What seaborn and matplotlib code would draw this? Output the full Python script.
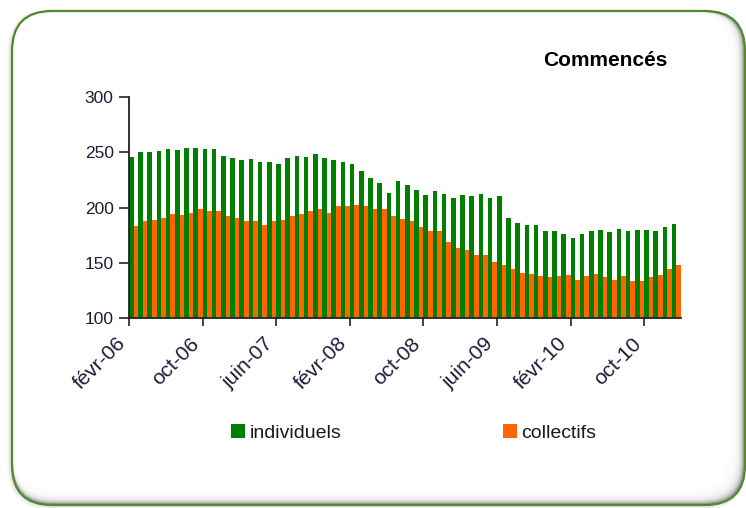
import numpy as np
import pandas as pd
import matplotlib
matplotlib.use("Agg")
import matplotlib.pyplot as plt
from matplotlib.patches import FancyBboxPatch, Patch
from matplotlib.transforms import IdentityTransform, ScaledTranslation
import seaborn as sns

# mois de févr-06 à janv-11
noms = ["janv", "févr", "mars", "avr", "mai", "juin",
        "juil", "août", "sept", "oct", "nov", "déc"]
mois = []
for k in range(60):
    m = (1 + k) % 12
    a = 6 + (1 + k) // 12
    mois.append(f"{noms[m]}-{a:02d}")

individuels = [246, 250, 250, 251, 253, 252, 254, 254, 253, 253,
               247, 245, 243, 244, 241, 241, 239.5, 245, 247, 246,
               248, 245, 243, 241, 239, 233, 227, 222, 213, 224,
               220, 216, 211, 215, 212, 209, 211, 210, 212, 209,
               210, 190.5, 186, 184, 184, 178.5, 178.5, 176, 172, 176,
               178.5, 179.5, 178, 180.5, 179, 179.5, 179.5, 179, 182, 185]
collectifs = [183, 187.5, 188.7, 190.8, 194, 193, 195.3, 199, 196.5, 196.5,
              192, 190.8, 187.5, 187.5, 184, 187.5, 188.7, 192, 194, 196.5,
              199, 195.3, 201, 201, 202.3, 201, 199, 199, 192, 190,
              187.5, 182, 178.5, 178.5, 169, 163, 161.4, 157, 157, 151,
              148, 144.5, 141, 140, 138, 136.7, 138, 139, 134.6, 138,
              140, 136.7, 134.6, 138, 133.4, 133.4, 136.7, 139, 144.5, 148]

ticks_idx = list(range(0, 60, 8))
vert = "#007f00"
orange = "#ff6600"
texte = "#1c1c38"

df = pd.DataFrame({
    "mois": mois * 2,
    "valeur": individuels + collectifs,
    "type": ["individuels"] * len(mois) + ["collectifs"] * len(mois),
})

sns.set_style("ticks")
plt.rcParams["font.family"] = ["Liberation Sans", "DejaVu Sans"]

W, H = 746, 508
fig = plt.figure(figsize=(W / 100, H / 100), dpi=100)
fig.patch.set_facecolor("white")


def box(x0, y0, x1, y1, r, **kw):
    # coordonnées en pixels, y compté depuis le haut
    p = FancyBboxPatch((x0 + r, H - y1 + r), (x1 - x0) - 2 * r, (y1 - y0) - 2 * r,
                       boxstyle=f"round,pad={r}", transform=IdentityTransform(),
                       zorder=-5, **kw)
    fig.patches.append(p)


# ombre extérieure
for k in range(6):
    box(12 - k, 11 - k * 0.3, 745 + k * 0.3, 505 + k, 40 + k,
        facecolor="#808080", edgecolor="none", alpha=0.05)
# cadre avec ombre intérieure
box(12, 11, 745, 505, 40, facecolor="#9a9a9a", edgecolor="none")
for k in range(1, 14):
    box(13, 12, 744 - k, 504 - k, 39, facecolor="white", edgecolor="none", alpha=0.3)
box(13, 12, 729, 490, 39, facecolor="white", edgecolor="none")
box(12, 11, 745, 505, 40, facecolor="none", edgecolor="#4f8a2e", linewidth=1.6)

ax = fig.add_axes([129 / W, 1 - 318 / H, (681 - 129) / W, (318 - 97) / H])
ax.set_facecolor("none")
sns.barplot(data=df, x="mois", y="valeur", hue="type", order=mois,
            hue_order=["individuels", "collectifs"],
            palette={"individuels": vert, "collectifs": orange},
            width=1.0, gap=0, dodge=True, saturation=1, errorbar=None,
            linewidth=0, legend=False, ax=ax)

ax.set_ylim(100, 300)
ax.set_yticks([100, 150, 200, 250, 300])
ax.set_xlim(-0.5, len(mois) - 0.5)
ax.set_xlabel("")
ax.set_ylabel("")
ax.tick_params(axis="y", direction="out", length=7, width=1.2, pad=4,
               labelsize=12.5, labelcolor=texte, color="#222222")
ax.tick_params(axis="x", direction="out", length=6, width=1.2, pad=4, color="#222222")
ax.set_xticks([i - 0.5 for i in ticks_idx])
ax.set_xticklabels([mois[i] for i in ticks_idx], rotation=45, ha="right",
                   va="top", rotation_mode="anchor", fontsize=15, color=texte)
# décalage des étiquettes vers la gauche, comme dans Excel
decal = ScaledTranslation(-0.13, -0.02, fig.dpi_scale_trans)
for lab in ax.get_xticklabels():
    lab.set_transform(lab.get_transform() + decal)
for s in ["top", "right"]:
    ax.spines[s].set_visible(False)
for s in ["left", "bottom"]:
    ax.spines[s].set_color("#222222")
    ax.spines[s].set_linewidth(1.3)

fig.text(668 / W, 1 - 60 / H, "Commencés", ha="right", va="center",
         fontsize=15, fontweight="bold", color="black")

poignees = [Patch(facecolor=vert, edgecolor="none"), Patch(facecolor=orange, edgecolor="none")]
fig.legend(poignees, ["individuels", "collectifs"], ncol=2, frameon=False,
           fontsize=14, handlelength=0.7, handleheight=0.7, handletextpad=0.25,
           columnspacing=8.3, loc="center", bbox_to_anchor=(414 / W, 1 - 433 / H),
           labelcolor="#1a1a1a")

fig.savefig("out.png", dpi=100)
